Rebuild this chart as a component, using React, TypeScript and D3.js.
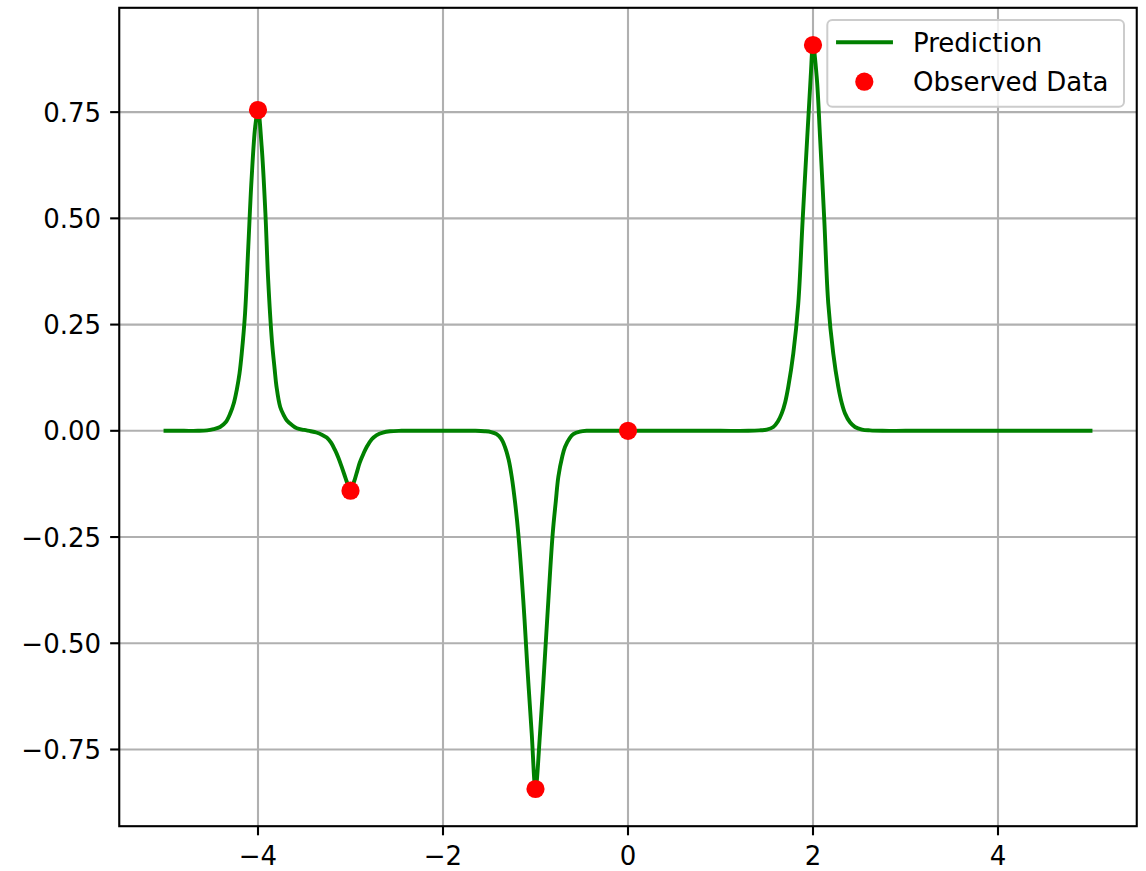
import React from 'react';
import * as d3 from 'd3';

// Prediction curve
const curveX = [
  -5.0, -4.8, -4.65, -4.55, -4.48, -4.41, -4.35, -4.3, -4.26, -4.23, -4.2, -4.176, -4.14,
  -4.105, -4.07, -4.03, -4.0, -3.96, -3.92, -3.89, -3.85, -3.82, -3.8, -3.76, -3.72, -3.69,
  -3.63, -3.58, -3.5, -3.43, -3.37, -3.31, -3.257, -3.21, -3.168, -3.13, -3.095, -3.065,
  -3.04, -3.0, -2.97, -2.95, -2.925, -2.9, -2.86, -2.825, -2.77, -2.717, -2.65, -2.573,
  -2.45, -2.2, -1.9, -1.65, -1.55, -1.48, -1.42, -1.37, -1.33, -1.29, -1.257, -1.22,
  -1.186, -1.132, -1.088, -1.041, -1.0, -0.951, -0.905, -0.861, -0.814, -0.78, -0.753,
  -0.71, -0.681, -0.63, -0.591, -0.52, -0.447, -0.3, 0.0, 0.5, 1.0, 1.3, 1.42, 1.5, 1.571,
  1.62, 1.662, 1.7, 1.733, 1.787, 1.841, 1.888, 1.938, 1.975, 2.0, 2.04, 2.076, 2.122,
  2.165, 2.219, 2.273, 2.31, 2.346, 2.4, 2.454, 2.53, 2.616, 2.75, 3.0, 4.0, 5.0,
];
const curveY = [
  0.0, 0.0, 0.0, 0.001, 0.004, 0.009, 0.02, 0.041, 0.066, 0.096, 0.135, 0.182, 0.276,
  0.433, 0.59, 0.716, 0.755, 0.668, 0.512, 0.355, 0.213, 0.145, 0.104, 0.056, 0.036, 0.025,
  0.013, 0.006, 0.002, -0.001, -0.004, -0.009, -0.016, -0.028, -0.045, -0.064, -0.085, -0.104,
  -0.12, -0.141, -0.125, -0.112, -0.093, -0.075, -0.054, -0.038, -0.02, -0.01, -0.004, -0.001,
  0.0, 0.0, 0.0, 0.0, -0.001, -0.003, -0.008, -0.019, -0.038, -0.068, -0.108, -0.17,
  -0.242, -0.399, -0.556, -0.712, -0.843, -0.712, -0.556, -0.399, -0.242, -0.165, -0.108,
  -0.06, -0.038, -0.017, -0.008, -0.002, 0.0, 0.0, 0.0, 0.0, 0.0, 0.0, 0.001, 0.003, 0.009,
  0.022, 0.041, 0.068, 0.104, 0.182, 0.3, 0.496, 0.692, 0.833, 0.908, 0.833, 0.692, 0.496,
  0.3, 0.182, 0.104, 0.066, 0.041, 0.02, 0.009, 0.003, 0.001, 0.0, 0.0, 0.0, 0.0,
];

// Observed data points
const obsX = [-4, -3, -1, 0, 2];
const obsY = [0.755, -0.141, -0.843, 0.0, 0.908];

const xTicks = [-4, -2, 0, 2, 4];
const yTicks = [-0.75, -0.5, -0.25, 0, 0.25, 0.5, 0.75];

const seriesNames = ['Prediction', 'Observed Data'];

const W = 1146;
const H = 871;
const plot = { left: 119.25, right: 1136.75, top: 7.8, bottom: 826.2 };
const FONT = '"DejaVu Sans", sans-serif';
const FS = 26;
const GREEN = '#008000';
const RED = '#ff0000';
const GRID = '#b0b0b0';
const LW = 2.1;
const TICK = 9.1;

const minus = (s: string) => s.replace('-', '\u2212');

export default function App() {
  const xExt = d3.extent(curveX) as [number, number];
  const xPad = (xExt[1] - xExt[0]) * 0.05;
  const x = d3.scaleLinear().domain([xExt[0] - xPad, xExt[1] + xPad]).range([plot.left, plot.right]);

  const yAll = curveY.concat(obsY);
  const yExt = d3.extent(yAll) as [number, number];
  const yPad = (yExt[1] - yExt[0]) * 0.05;
  const y = d3.scaleLinear().domain([yExt[0] - yPad, yExt[1] + yPad]).range([plot.bottom, plot.top]);

  const pts: [number, number][] = curveX.map((v, i) => [v, curveY[i]]);
  const line = d3
    .line<[number, number]>()
    .x((d) => x(d[0]))
    .y((d) => y(d[1]))
    .curve(d3.curveCatmullRom.alpha(0.5));

  const yFmt = d3.format('.2f');

  const legend = { x: 827.3, y: 20, w: 296.7, h: 86.7 };
  const row1 = 42.3;
  const row2 = 81.7;

  return (
    <svg
      width={W}
      height={H}
      style={{ position: 'absolute', left: 0, top: 0, background: '#fff' }}
      fontFamily={FONT}
    >
      <rect x={0} y={0} width={W} height={H} fill="#fff" />
      {/* grid */}
      {xTicks.map((t) => (
        <line key={'gx' + t} x1={x(t)} x2={x(t)} y1={plot.top} y2={plot.bottom} stroke={GRID} strokeWidth={LW} />
      ))}
      {yTicks.map((t) => (
        <line key={'gy' + t} x1={plot.left} x2={plot.right} y1={y(t)} y2={y(t)} stroke={GRID} strokeWidth={LW} />
      ))}
      {/* prediction */}
      <path d={line(pts) || ''} fill="none" stroke={GREEN} strokeWidth={3.9} strokeLinejoin="round" strokeLinecap="square" />
      {/* observed */}
      {obsX.map((v, i) => (
        <circle key={'o' + i} cx={x(v)} cy={y(obsY[i])} r={9.1} fill={RED} />
      ))}
      {/* spines */}
      <rect
        x={plot.left}
        y={plot.top}
        width={plot.right - plot.left}
        height={plot.bottom - plot.top}
        fill="none"
        stroke="#000"
        strokeWidth={LW}
      />
      {/* x ticks */}
      {xTicks.map((t) => (
        <g key={'xt' + t}>
          <line x1={x(t)} x2={x(t)} y1={plot.bottom} y2={plot.bottom + TICK} stroke="#000" strokeWidth={LW} />
          <text x={x(t)} y={plot.bottom + 39} fontSize={FS} textAnchor="middle" fill="#000">
            {minus(String(t))}
          </text>
        </g>
      ))}
      {/* y ticks */}
      {yTicks.map((t) => (
        <g key={'yt' + t}>
          <line x1={plot.left - TICK} x2={plot.left} y1={y(t)} y2={y(t)} stroke="#000" strokeWidth={LW} />
          <text x={plot.left - 2 * TICK} y={y(t) + 9.5} fontSize={FS} textAnchor="end" fill="#000">
            {minus(yFmt(t))}
          </text>
        </g>
      ))}
      {/* legend */}
      <rect
        x={legend.x}
        y={legend.y}
        width={legend.w}
        height={legend.h}
        rx={5}
        ry={5}
        fill="#fff"
        fillOpacity={0.8}
        stroke="#cccccc"
        strokeWidth={2}
      />
      <line x1={838} x2={891} y1={row1} y2={row1} stroke={GREEN} strokeWidth={3.9} strokeLinecap="square" />
      <text x={913} y={row1 + 9.4} fontSize={FS} fill="#000">
        {seriesNames[0]}
      </text>
      <circle cx={864.3} cy={row2} r={9.1} fill={RED} />
      <text x={913} y={row2 + 9.3} fontSize={FS} fill="#000">
        {seriesNames[1]}
      </text>
    </svg>
  );
}
